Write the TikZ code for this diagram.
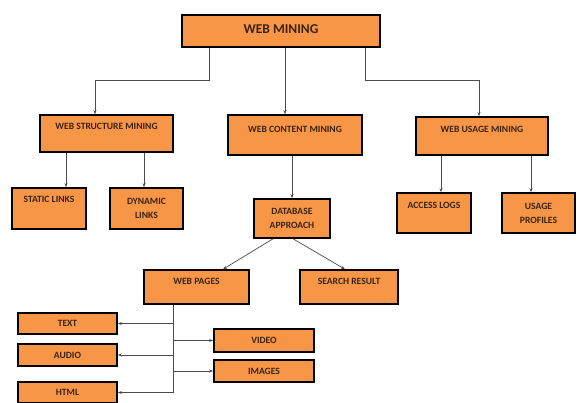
\documentclass[tikz,border=0pt]{standalone}
\usepackage{fontspec}
\setmainfont{Carlito}
\usepackage{tikz}
\usetikzlibrary{arrows.meta}
\definecolor{boxorange}{HTML}{F79646}
\definecolor{boxtext}{HTML}{3B2314}
\definecolor{linkgray}{HTML}{4A4A4A}
\tikzset{
  mbox/.style={draw=black, line width=1.6pt, fill=boxorange, text=boxtext,
    font=\bfseries\fontsize{9.6}{14}\selectfont, align=center, inner sep=0pt},
  capline/.style 2 args={text height=#1, text depth=#2},
  link/.style={draw=linkgray, line width=0.7pt, -{Stealth[length=4pt,width=3pt]}},
}

\begin{document}
\begin{tikzpicture}[x=1pt, y=-1pt]
    \useasboundingbox (0,0) rectangle (580,403);
    % define boxes
    % top level
    \node[mbox, minimum width=198pt, capline={19pt}{13pt},
          font=\bfseries\fontsize{13.5}{16}\selectfont] (web) at (281,31) {WEB MINING};
    % second level
    \node[mbox, minimum width=133pt, capline={15pt}{22pt}] (wsm) at (106.5,133.5) {WEB STRUCTURE MINING};
    \node[mbox, minimum width=134pt, capline={18pt}{22pt}] (wcm) at (295,135) {WEB CONTENT MINING};
    \node[mbox, minimum width=132pt, capline={16pt}{22pt}] (wum) at (482,136) {WEB USAGE MINING};
    % third level
    \node[mbox, minimum width=74pt, capline={15pt}{26pt}] (static) at (49,208.5) {STATIC LINKS};
    \node[mbox, minimum width=73pt, minimum height=41pt] (dynamic) at (146.5,208.5) {DYNAMIC\\LINKS};
    \node[mbox, minimum width=76pt, minimum height=39pt] (db) at (292,218.5) {DATABASE\\APPROACH};
    \node[mbox, minimum width=74pt, capline={15pt}{25pt}] (access) at (434,213) {ACCESS LOGS};
    \node[mbox, minimum width=73pt, minimum height=40pt] (usage) at (538.5,213) {USAGE\\PROFILES};
    % database results
    \node[mbox, minimum width=105pt, capline={14pt}{20pt}] (webpages) at (196.5,287) {WEB PAGES};
    \node[mbox, minimum width=98pt, capline={14pt}{20pt}] (search) at (349,287) {SEARCH RESULT};
    % page contents
    \node[mbox, minimum width=99pt, minimum height=21pt] (text) at (67.5,323.5) {TEXT};
    \node[mbox, minimum width=99pt, minimum height=22pt] (audio) at (67.5,355) {AUDIO};
    \node[mbox, minimum width=99pt, minimum height=21pt] (html) at (67.5,392.5) {HTML};
    \node[mbox, minimum width=100pt, minimum height=23pt] (video) at (264,340.5) {VIDEO};
    \node[mbox, minimum width=100pt, minimum height=22pt] (images) at (264,371) {IMAGES};
    % draw connectors
    \draw[link] ([xshift=-72pt]web.south) -- ++(0,33) -| ([xshift=-11.5pt]wsm.north);
    \draw[link] ([xshift=4pt]web.south) -- ([xshift=-10pt]wcm.north);
    \draw[link] ([xshift=84pt]web.south) -- ++(0,33) -| ([xshift=-3pt]wum.north);
    \draw[link] ([xshift=17pt]static.north |- wsm.south) -- ([xshift=17pt]static.north);
    \draw[link] ([xshift=-2.5pt]dynamic.north |- wsm.south) -- ([xshift=-2.5pt]dynamic.north);
    \draw[link] (db.north |- wcm.south) -- (db.north);
    \draw[link] ([xshift=7pt]access.north |- wum.south) -- ([xshift=7pt]access.north);
    \draw[link] ([xshift=-7.5pt]usage.north |- wum.south) -- ([xshift=-7.5pt]usage.north);
    \draw[link] ([xshift=-19pt]db.south) -- ([xshift=26.5pt]webpages.north);
    \draw[link] ([xshift=1pt]db.south) -- ([xshift=-4pt]search.north);
    % page contents hang off one trunk
    \coordinate (trunk) at ([xshift=-23.5pt]webpages.south);
    \draw[link] (trunk) |- (html.east);
    \draw[link] (trunk |- text) -- (text.east);
    \draw[link] (trunk |- audio) -- (audio.east);
    \draw[link] (trunk |- video) -- (video.west);
    \draw[link] (trunk |- images) -- (images.west);
\end{tikzpicture}
\end{document}
